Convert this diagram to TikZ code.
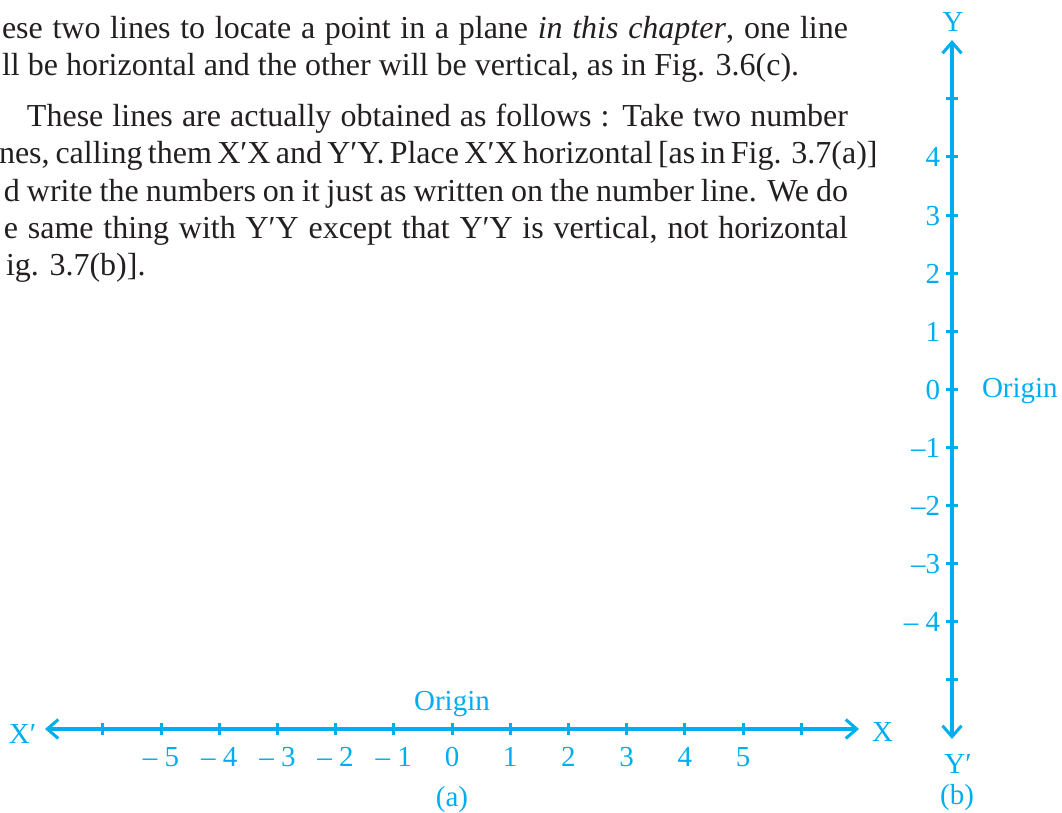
\documentclass[tikz,border=0pt]{standalone}
\usepackage{fontspec}
\setmainfont{Liberation Serif}
\usetikzlibrary{arrows.meta}
\definecolor{axcyan}{HTML}{00AEEF}
\definecolor{ink}{HTML}{231F20}
\begin{document}
\begin{tikzpicture}[x=1pt,y=-1pt,
  body/.style={inner sep=0pt, outer sep=0pt, text=ink, font=\fontsize{32}{37}\selectfont},
  lab/.style={inner sep=0pt, outer sep=0pt, text=axcyan, font=\fontsize{29}{32}\selectfont},
  axisline/.style={draw=axcyan, line width=3.2pt,
    {Straight Barb[length=11pt,width=19pt,line width=3pt]}-{Straight Barb[length=11pt,width=19pt,line width=3pt]}},
  tickmark/.style={draw=axcyan, line width=3pt}]
\useasboundingbox (0,0) rectangle (1062,813);
\clip (0,0) rectangle (1062,813);
% body text
\node[body, anchor=base east] (t1) at (848,39) {\makebox[846pt][s]{ese two lines to locate a point in a plane \textit{in this chapter}, one line}};
\node[body, anchor=base west] (t2) at (2,76) {ll be horizontal and the other will be vertical, as in Fig. 3.6(c).};
\node[body, anchor=base east] (t3) at (848,127) {\makebox[821pt][s]{These lines are actually obtained as follows : Take two number}};
\node[body, anchor=base east] (t4) at (848,164) {\makebox[849pt][s]{nes, calling them X′X and Y′Y. Place X′X horizontal [as in Fig. 3.7(a)]}};
\node[body, anchor=base east] (t5) at (848,201) {\makebox[844pt][s]{d write the numbers on it just as written on the number line. We do}};
\node[body, anchor=base east] (t6) at (848,238) {\makebox[844pt][s]{e same thing with Y′Y except that Y′Y is vertical, not horizontal}};
\node[body, anchor=base west] (t7) at (6,275) {ig. 3.7(b)].};
% horizontal axis
\coordinate (xl) at (45,729);
\coordinate (xr) at (859,729);
\draw[axisline] (xl) -- (xr);
\foreach \k in {-6,...,6} {
  \draw[tickmark] ({452+58.2*\k},723) -- ({452+58.2*\k},735);
}
\foreach \k/\t in {-5/– 5,-4/– 4,-3/– 3,-2/– 2,-1/– 1,0/0,1/1,2/2,3/3,4/4,5/5} {
  \node[lab, anchor=base] at ({452+58.2*\k},766) {\t};
}
\node[lab, anchor=base] (orih) at (452,710) {Origin};
\node[lab, anchor=base west] (xp) at (9,743) {X′};
\node[lab, anchor=base west] (xx) at (872,741) {X};
\node[lab, anchor=base] (capa) at (452,806) {(a)};
% vertical axis
\coordinate (yb) at (952,739);
\coordinate (yt) at (952,40);
\draw[axisline] (yb) -- (yt);
\foreach \k in {-5,...,5} {
  \draw[tickmark] (946,{389-58*\k}) -- (958,{389-58*\k});
}
\foreach \k/\t in {4/4,3/3,2/2,1/1,0/0,-1/–1,-2/–2,-3/–3,-4/– 4} {
  \node[lab, anchor=base east] at (940,{389-58*\k+10}) {\t};
}
\node[lab, anchor=base west] (oriv) at (982,397) {Origin};
\node[lab, anchor=base] (yy) at (953,32) {Y};
\node[lab, anchor=base] (yp) at (958,773) {Y′};
\node[lab, anchor=base] (capb) at (957,804) {(b)};
\end{tikzpicture}
\end{document}
